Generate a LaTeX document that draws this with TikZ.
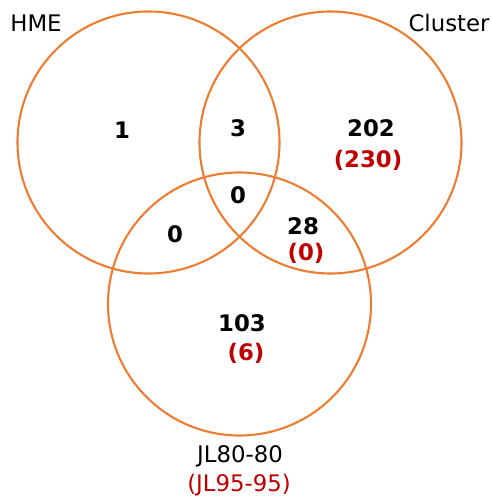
\documentclass[tikz,border=0pt]{standalone}
\usepackage{fontspec}
\setmainfont{DejaVu Sans}
\definecolor{vorange}{RGB}{237,125,49}
\definecolor{vred}{RGB}{192,0,0}
\begin{document}
\begin{tikzpicture}[x=1pt,y=-1pt,
  ring/.style={draw=vorange,line width=2.1pt},
  lbl/.style={font=\fontsize{22.8}{26}\selectfont,inner sep=0pt,anchor=center},
  num/.style={font=\fontsize{22.8}{26}\selectfont\bfseries,inner sep=0pt,anchor=center},
  rnum/.style={num,text=vred}]
\useasboundingbox (0,0) rectangle (491,497);
\fill[white] (0,0) rectangle (491,497);
\coordinate (cA) at (148.5,142.5);
\coordinate (cB) at (330.5,142.5);
\coordinate (cC) at (239.5,304);
\draw[ring] (cA) circle[radius=131];
\draw[ring] (cB) circle[radius=131];
\draw[ring] (cC) circle[radius=131.5];
\node[lbl] (hme) at (36,23) {HME};
\node[lbl] (cluster) at (449,23) {Cluster};
\node[lbl] (jl) at (240,456) {JL80-80};
\node[lbl,text=vred] (jl2) at (239,485) {(JL95-95)};
\node[num] (n1) at (122,130) {1};
\node[num] (n3) at (238,128) {3};
\node[num] (n202) at (371,128) {202};
\node[rnum] (r230) at (368,160) {(230)};
\node[num] (n0c) at (238,195) {0};
\node[num] (n0l) at (175,234) {0};
\node[num] (n28) at (303,226) {28};
\node[rnum] (r0) at (306,253) {(0)};
\node[num] (n103) at (242,323) {103};
\node[rnum] (r6) at (246,353) {(6)};
\end{tikzpicture}
\end{document}
